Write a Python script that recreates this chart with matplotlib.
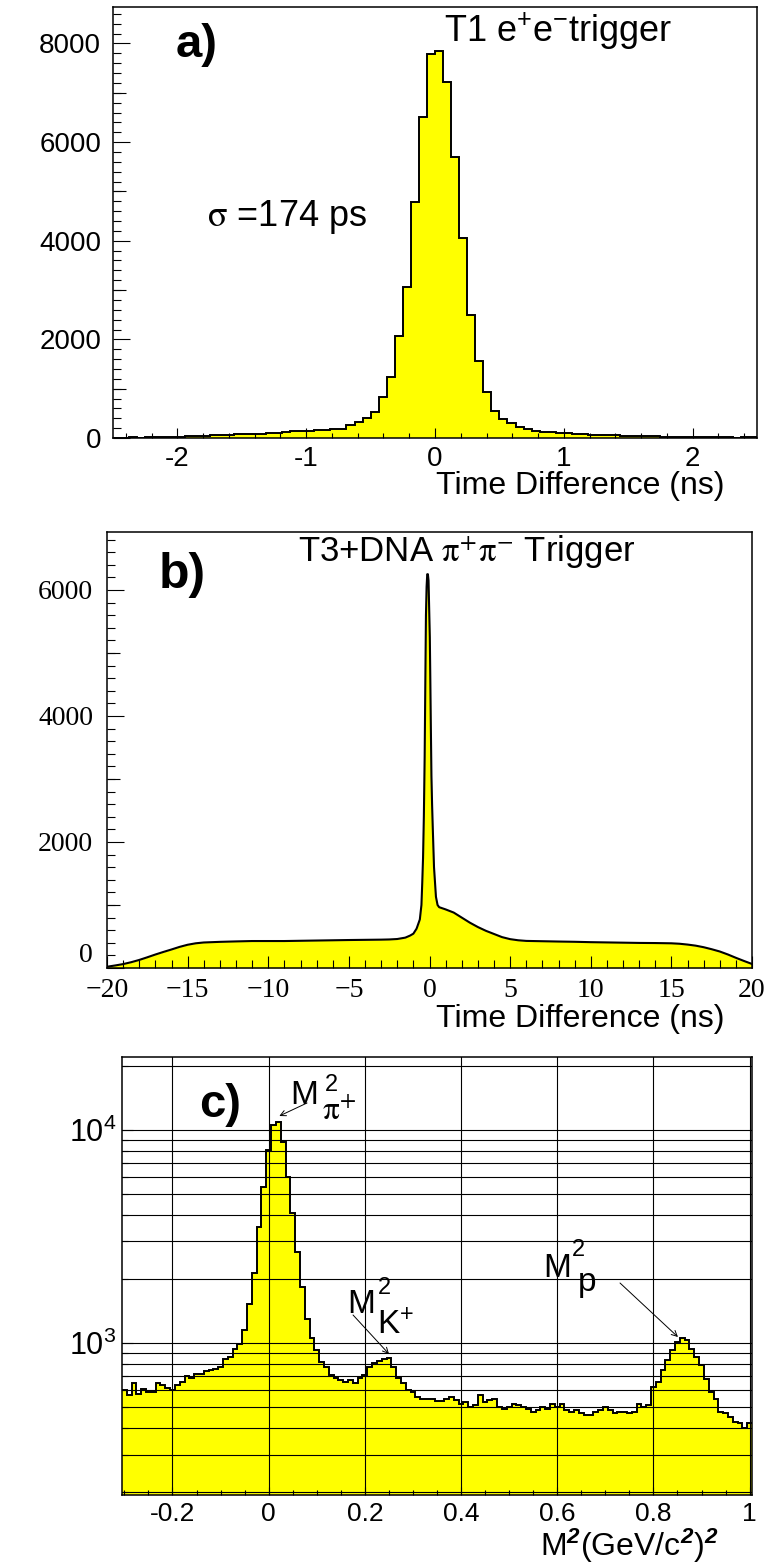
import numpy as np
import matplotlib.pyplot as plt
from matplotlib.ticker import MultipleLocator, LogLocator, NullFormatter, FixedLocator

# panel a) T1 e+e- trigger : 80 bins over [-2.5, 2.5] ns
a_edges = np.linspace(-2.5, 2.5, 81)
a_counts = [7, 7, 13, 7, 13, 20, 27, 27, 27, 34,
            40, 47, 54, 60, 67, 74, 74, 87, 87, 94,
            108, 121, 135, 141, 148, 155, 165, 175, 185, 270,
            315, 412, 535, 830, 1245, 2067, 3057, 4781, 6518, 7780,
            7840, 7212, 5697, 4061, 2498, 1556, 923, 550, 390, 310,
            230, 185, 145, 128, 115, 105, 94, 87, 74, 67,
            60, 54, 54, 47, 47, 40, 34, 34, 27, 27,
            20, 20, 20, 13, 13, 13, 13, 7, 13, 13]

# panel b) T3+DNA pi+pi- trigger : counts
b_time = [-20, -19.5, -19, -18.5, -18, -17.5, -17, -16.5, -16, -15.5,
          -15, -14.5, -14, -13, -12, -11, -10, -9, -8, -7,
          -6, -5, -4, -3, -2.5, -2, -1.5, -1.2, -1.0, -0.8,
          -0.6, -0.5, -0.45, -0.4, -0.35, -0.3, -0.26, -0.22, -0.18, -0.14,
          -0.1, -0.06, -0.02, 0.02, 0.05, 0.08, 0.12, 0.16, 0.2, 0.28,
          0.4, 0.5, 0.6, 1.0, 1.5, 2.0, 2.5, 3.0, 3.5, 4.0,
          4.5, 5.0, 5.5, 6.0, 7, 8, 9, 10, 11, 12,
          13, 14, 15, 15.5, 16, 16.5, 17, 17.5, 18, 18.5,
          19, 19.5, 20]
b_counts = [20, 40, 62, 92, 128, 170, 214, 255, 294, 335,
            369, 392, 405, 415, 422, 428, 428, 428, 432, 436,
            440, 444, 447, 450, 453, 460, 482, 515, 545, 625,
            770, 1000, 1350, 1750, 2400, 3350, 4500, 5600, 6050, 6250,
            6250, 6150, 5700, 5250, 4600, 3900, 3050, 2600, 2250, 1600,
            1130, 1000, 965, 930, 880, 800, 720, 650, 590, 540,
            490, 458, 440, 430, 425, 420, 416, 410, 406, 402,
            398, 396, 392, 385, 372, 355, 330, 298, 262, 215,
            162, 112, 64]

# panel c) missing mass squared, 131 bins of 0.01 (GeV/c^2)^2
c_edges = np.linspace(-0.305, 1.005, 132)
c_counts = [601, 570, 647, 580, 612, 591, 591, 647, 636, 619,
            602, 636, 659, 700, 683, 720, 720, 741, 752, 760,
            774, 847, 863, 944, 996, 1151, 1535, 2124, 3517, 5419,
            8054, 10556, 10941, 8810, 6036, 4062, 2685, 1838, 1305, 1052,
            927, 817, 774, 708, 683, 671, 659, 671, 652, 683,
            708, 774, 803, 826, 847, 855, 774, 683, 647, 602,
            591, 560, 550, 550, 550, 535, 535, 550, 560, 540,
            521, 530, 502, 511, 570, 530, 540, 550, 502, 493,
            502, 521, 511, 502, 493, 476, 485, 502, 493, 521,
            502, 521, 485, 476, 485, 468, 459, 459, 476, 485,
            502, 485, 468, 476, 476, 468, 476, 521, 502, 511,
            624, 658, 747, 832, 927, 1015, 1052, 1033, 944, 863,
            788, 682, 591, 550, 476, 468, 451, 428, 420, 398,
            420]

a_xticks = [-2, -1, 0, 1, 2]
a_yticks = [0, 2000, 4000, 6000, 8000]
a_midticks = [1000, 3000, 5000, 7000]
b_xticks = [-20, -15, -10, -5, 0, 5, 10, 15, 20]
b_yticks = [0, 2000, 4000, 6000]
b_midticks = [1000, 3000, 5000]
c_xticks = [-0.2, 0, 0.2, 0.4, 0.6, 0.8, 1.0]
c_yticks = [1e3, 1e4]

YELLOW = '#ffff00'
SERIF = ['Liberation Serif', 'DejaVu Serif']

plt.rcParams['font.family'] = ['Liberation Sans', 'DejaVu Sans']
plt.rcParams['mathtext.fontset'] = 'custom'
plt.rcParams['mathtext.rm'] = 'Liberation Sans'
plt.rcParams['mathtext.it'] = 'Liberation Sans:italic'
plt.rcParams['mathtext.bf'] = 'Liberation Sans:bold:italic'
plt.rcParams['axes.linewidth'] = 1.1

W, H = 769, 1566
fig = plt.figure(figsize=(W / 100, H / 100), dpi=100)


def px_axes(left, top, right, bottom):
    return fig.add_axes([left / W, 1 - bottom / H, (right - left) / W, (bottom - top) / H])


def mid_ticks(ax, ticks, length):
    sec = ax.secondary_yaxis('left')
    sec.set_yticks(ticks)
    sec.tick_params(direction='in', length=length, labelleft=False, width=0.8)
    for s in sec.spines.values():
        s.set_visible(False)


ax_a = px_axes(113, 7, 757, 438)
ax_b = px_axes(107, 532, 752, 968)
ax_c = px_axes(122, 1057, 752, 1495)

# ---- a)
ax_a.stairs(a_counts, a_edges, fill=True, color=YELLOW, lw=0)
ax_a.stairs(a_counts, a_edges, color='black', lw=1.4)
ax_a.set_xlim(-2.5, 2.5)
ax_a.set_ylim(0, 8740)
ax_a.set_xticks(a_xticks, [f'{t:g}' for t in a_xticks])
ax_a.set_yticks(a_yticks, [f'{t:g}' for t in a_yticks])
ax_a.xaxis.set_minor_locator(MultipleLocator(0.2))
ax_a.yaxis.set_minor_locator(MultipleLocator(200))
ax_a.tick_params(which='both', direction='in', labelsize=20, width=0.8)
ax_a.tick_params(axis='x', which='major', length=7, pad=6)
ax_a.tick_params(axis='x', which='minor', length=3.6)
ax_a.tick_params(axis='y', which='major', length=12, pad=8.6)
ax_a.tick_params(axis='y', which='minor', length=5.5)
mid_ticks(ax_a, a_midticks, 9)

ax_a.text(0.130, 0.884, 'a)', transform=ax_a.transAxes, ha='center', va='baseline',
          fontsize=34, fontweight='bold')
ax_a.text(0.691, 0.920, 'T1 e$^{+}$e$^{-}$trigger', transform=ax_a.transAxes,
          ha='center', va='baseline', fontsize=26)
ax_a.text(0.270, 0.492, r'$\mathrm{\sigma}$ =174 ps', transform=ax_a.transAxes,
          ha='center', va='baseline', fontsize=26, math_fontfamily='stix')
fig.text(580 / W, 1 - 494 / H, 'Time Difference (ns)', ha='center', va='baseline', fontsize=23)

# ---- b)
ax_b.fill_between(b_time, b_counts, color=YELLOW, lw=0)
ax_b.plot(b_time, b_counts, color='black', lw=1.5)
ax_b.set_xlim(-20, 20)
ax_b.set_ylim(0, 6920)
ax_b.set_xticks(b_xticks, [f'{t:g}'.replace('-', '\u2212') for t in b_xticks])
ax_b.set_yticks(b_yticks, [f'{t:g}' for t in b_yticks])
ax_b.xaxis.set_minor_locator(MultipleLocator(1))
ax_b.yaxis.set_minor_locator(MultipleLocator(200))
ax_b.tick_params(which='both', direction='in', labelsize=20, width=0.8)
ax_b.tick_params(axis='x', which='major', length=8.6, pad=7.5)
ax_b.tick_params(axis='x', which='minor', length=5.5)
ax_b.tick_params(axis='y', which='major', length=12, pad=10)
ax_b.tick_params(axis='y', which='minor', length=5.5)
for lab in ax_b.get_xticklabels() + ax_b.get_yticklabels():
    lab.set_family(SERIF)
# the "0" sits just above the corner, as in the original
ax_b.yaxis.get_major_ticks()[0].label1.set_verticalalignment('bottom')
mid_ticks(ax_b, b_midticks, 9)

ax_b.text(0.116, 0.872, 'b)', transform=ax_b.transAxes, ha='center', va='baseline',
          fontsize=36, fontweight='bold')
ax_b.text(0.557, 0.932, r'T3+DNA $\mathrm{\pi}^{+}\mathrm{\pi}^{-}$ Trigger',
          transform=ax_b.transAxes, ha='center', va='baseline', fontsize=25,
          math_fontfamily='stix')
fig.text(580 / W, 1 - 1027 / H, 'Time Difference (ns)', ha='center', va='baseline', fontsize=23)

# ---- c)
ax_c.set_yscale('log')
ax_c.stairs(c_counts, c_edges, baseline=1, fill=True, color=YELLOW, lw=0, zorder=1)
ax_c.stairs(c_counts, c_edges, baseline=None, color='black', lw=1.4, zorder=1.2)
ax_c.set_xlim(-0.305, 1.005)
ax_c.set_ylim(194, 22000)
ax_c.set_xticks(c_xticks, [f'{t:g}' for t in c_xticks])
ax_c.xaxis.set_minor_locator(MultipleLocator(0.05))
ax_c.yaxis.set_major_locator(FixedLocator(c_yticks))
ax_c.yaxis.set_minor_locator(LogLocator(base=10, subs=np.arange(2, 10)))
ax_c.yaxis.set_minor_formatter(NullFormatter())
ax_c.set_axisbelow(False)
ax_c.grid(which='major', axis='x', color='black', lw=0.8)
ax_c.grid(which='both', axis='y', color='black', lw=0.8)
ax_c.tick_params(which='both', direction='in', width=0.8)
ax_c.tick_params(axis='x', which='major', length=6, pad=5, labelsize=19)
ax_c.tick_params(axis='x', which='minor', length=3.6)
ax_c.tick_params(axis='y', which='major', length=8, pad=4, labelsize=22)
ax_c.tick_params(axis='y', which='minor', length=4)

ax_c.text(0.156, 0.863, 'c)', transform=ax_c.transAxes, ha='center', va='baseline',
          fontsize=34, fontweight='bold')

tc = ax_c.transAxes
ax_c.text(0.2667, 0.8927, 'M', transform=tc, fontsize=24, va='baseline')
ax_c.text(0.3222, 0.9230, '2', transform=tc, fontsize=17, va='baseline')
ax_c.text(0.3175, 0.858, r'$\mathrm{\pi}^{+}$', transform=tc, fontsize=24, va='baseline',
          math_fontfamily='stix')
ax_c.text(0.3571, 0.4155, 'M', transform=tc, fontsize=24, va='baseline')
ax_c.text(0.4063, 0.4600, '2', transform=tc, fontsize=17, va='baseline')
ax_c.text(0.4048, 0.3660, 'K$^{+}$', transform=tc, fontsize=24, va='baseline')
ax_c.text(0.6683, 0.4977, 'M', transform=tc, fontsize=24, va='baseline')
ax_c.text(0.7143, 0.5460, '2', transform=tc, fontsize=17, va='baseline')
ax_c.text(0.7238, 0.466, 'p', transform=tc, fontsize=24, va='baseline')

arrow = dict(arrowstyle='->', color='black', lw=0.7, shrinkA=0, shrinkB=0)
ax_c.annotate('', xy=(0.2497, 0.8653), xytext=(0.2937, 0.895), xycoords=tc, textcoords=tc,
              arrowprops=arrow)
ax_c.annotate('', xy=(0.4238, 0.3219), xytext=(0.3667, 0.411), xycoords=tc, textcoords=tc,
              arrowprops=arrow)
ax_c.annotate('', xy=(0.8825, 0.3607), xytext=(0.7905, 0.484), xycoords=tc, textcoords=tc,
              arrowprops=arrow)

fig.text(629 / W, 1 - 1556 / H, r'M$^{\mathbf{2}}$(GeV/c$^{\mathbf{2}}$)$^{\mathbf{2}}$',
         ha='center', va='baseline', fontsize=23)

fig.savefig('out.png', dpi=100)
